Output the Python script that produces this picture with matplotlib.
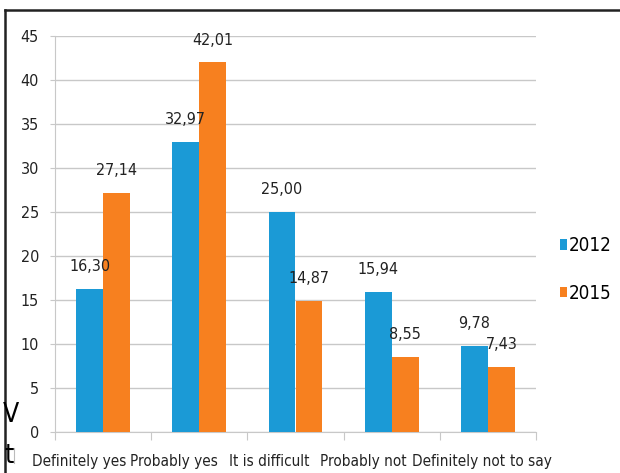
import matplotlib
matplotlib.use("Agg")
import matplotlib.pyplot as plt
from matplotlib import font_manager
from matplotlib.lines import Line2D
import numpy as np

# pick a narrow sans face if one is installed
_faces = font_manager.fontManager.ttflist
_names = {f.name for f in _faces}
_stretch = "normal"
if "Liberation Sans Narrow" in _names:
    _family = "Liberation Sans Narrow"
elif any(f.name == "DejaVu Sans" and f.stretch in ("condensed", "semi-condensed")
         for f in _faces):
    _family, _stretch = "DejaVu Sans", "condensed"
elif "Roboto Condensed" in _names:
    _family = "Roboto Condensed"
else:
    _family = "Roboto"
plt.rcParams['font.family'] = [_family, 'DejaVu Sans']
plt.rcParams['font.stretch'] = _stretch

categories = ["Definitely yes", "Probably yes", "It is difficult to say",
              "Probably not", "Definitely not"]
tick_labels = ["Definitely yes", "Probably yes", "It is difficult",
               "Probably not", "Definitely not", "to say"]
series_names = ["2012", "2015"]
values_2012 = [16.30, 32.97, 25.00, 15.94, 9.78]
values_2015 = [27.14, 42.01, 14.87, 8.55, 7.43]
y_ticks = [0, 5, 10, 15, 20, 25, 30, 35, 40, 45]

blue = "#1b9ad6"
orange = "#f7801f"
grid_grey = "#c8c8c8"
text_col = "#222222"

fig = plt.figure(figsize=(6.2, 4.73), dpi=100)
ax = fig.add_axes([55 / 620, 41 / 473, 481 / 620, 396 / 473])

x = np.arange(len(categories))
w = 0.28
b1 = ax.bar(x - w / 2, values_2012, w, color=blue, label=series_names[0], zorder=3)
b2 = ax.bar(x + w / 2, values_2015, w, color=orange, label=series_names[1], zorder=3)

for bars, vals in ((b1, values_2012), (b2, values_2015)):
    for rect, v in zip(bars, vals):
        ax.annotate(f"{v:.2f}".replace(".", ","),
                    (rect.get_x() + rect.get_width() / 2, v),
                    xytext=(0, 16), textcoords="offset points",
                    ha="center", va="center", fontsize=11.5, color=text_col)

ax.set_xlim(-0.5, len(categories) - 0.5)
ax.set_ylim(0, 45)
ax.set_yticks(y_ticks)
ax.set_yticklabels([str(t) for t in y_ticks], fontsize=11.5, color=text_col)
ax.yaxis.grid(True, color=grid_grey, linewidth=1, zorder=0)
ax.tick_params(axis="y", length=3.6, color=grid_grey, pad=8)

# category boundaries carry the x ticks; names run along one line below
ax.set_xticks(np.arange(len(categories) + 1) - 0.5)
ax.set_xticklabels([])
ax.tick_params(axis="x", length=6, color=grid_grey)
label_left = [32, 130, 229, 320, 412, 510]
for lab, px in zip(tick_labels, label_left):
    ax.text((px - 55) / 481 * 5 - 0.5, -3.3, lab, ha="left", va="center",
            fontsize=11, color=text_col, clip_on=False)

for side in ("top", "right"):
    ax.spines[side].set_visible(False)
ax.spines["left"].set_color(grid_grey)
ax.spines["bottom"].set_color(grid_grey)

leg = ax.legend(handles=[b1, b2], labels=series_names, loc="center left",
                bbox_to_anchor=(560 / 620, 1 - 269.5 / 473),
                bbox_transform=fig.transFigure, frameon=False, fontsize=13.5,
                handlelength=0.36, handleheight=0.5, handletextpad=0.08,
                labelspacing=1.5, borderaxespad=0, borderpad=0)

# surrounding frame and fragments of page text at the left edge
fig.add_artist(Line2D([5 / 620, 1], [1 - 10 / 473, 1 - 10 / 473],
                      transform=fig.transFigure, color="#222222", linewidth=1.8))
fig.add_artist(Line2D([5 / 620, 5 / 620], [0, 1 - 10 / 473],
                      transform=fig.transFigure, color="#222222", linewidth=1.8))
fig.text(3 / 620, 1 - 415 / 473, "V", fontsize=19, ha="left", va="center",
         color="black")
fig.text(4 / 620, 1 - 456 / 473, "t", fontsize=19, ha="left", va="center",
         color="black")
fig.add_artist(Line2D([14 / 620, 14 / 620], [1 - 463 / 473, 1 - 448 / 473],
                      transform=fig.transFigure, color="#bbbbbb", linewidth=0.8))

fig.savefig("out.png", dpi=100)
